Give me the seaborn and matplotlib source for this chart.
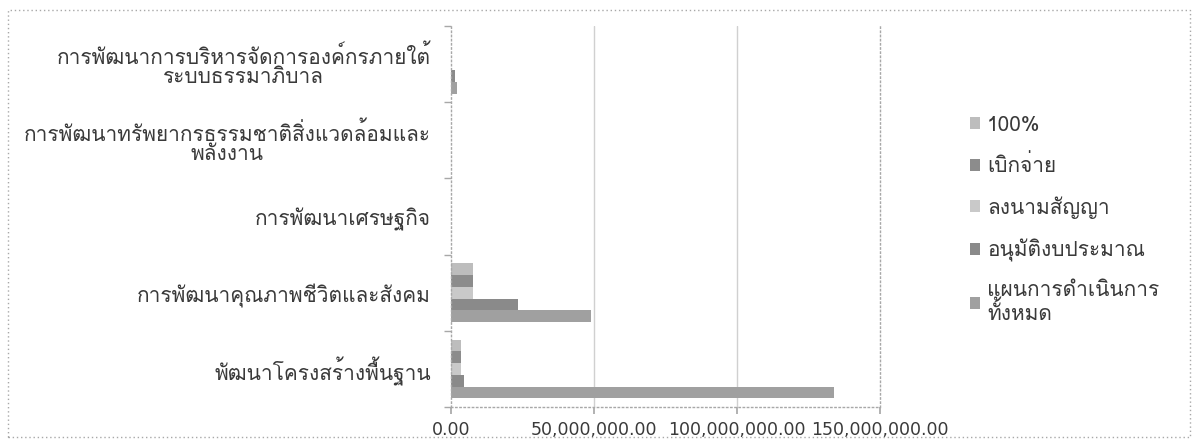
import numpy as np
import pandas as pd
import matplotlib
matplotlib.use("Agg")
import matplotlib.pyplot as plt
from matplotlib import font_manager
from matplotlib.patches import Rectangle
from matplotlib.ticker import FuncFormatter, FixedLocator
import seaborn as sns

# ---------------- data ----------------
categories = [
    "การพัฒนาการบริหารจัดการองค์กรภายใต้\nระบบธรรมาภิบาล",
    "การพัฒนาทรัพยากรธรรมชาติสิ่งแวดล้อมและ\nพลังงาน",
    "การพัฒนาเศรษฐกิจ",
    "การพัฒนาคุณภาพชีวิตและสังคม",
    "พัฒนาโครงสร้างพื้นฐาน",
]
series = ["100%", "เบิกจ่าย", "ลงนามสัญญา", "อนุมัติงบประมาณ", "แผนการดำเนินการ\nทั้งหมด"]
values_100 = [0, 0, 0, 7_600_000, 3_400_000]
values_disbursed = [0, 0, 0, 7_600_000, 3_400_000]
values_contract = [0, 0, 0, 7_600_000, 3_400_000]
values_approved = [1_400_000, 0, 0, 23_300_000, 4_700_000]
values_plan = [2_200_000, 0, 0, 49_000_000, 134_000_000]
x_ticks = [0, 50_000_000, 100_000_000, 150_000_000]

series_values = [values_100, values_disbursed, values_contract, values_approved, values_plan]
colors = ["#bdbdbd", "#8c8c8c", "#c9c9c9", "#8a8a8a", "#a0a0a0"]

rows = []
for s, vals in zip(series, series_values):
    for c, v in zip(categories, vals):
        rows.append({"category": c, "series": s, "value": v})
df = pd.DataFrame(rows)

# ---------------- font with Thai coverage ----------------
def find_thai_font():
    try:
        from fontTools.ttLib import TTFont
    except Exception:
        return None
    found = []
    for f in font_manager.fontManager.ttflist:
        try:
            tt = TTFont(f.fname, fontNumber=0, lazy=True)
            cmap = tt.getBestCmap()
            if cmap and 0x0E01 in cmap and 0x0E1E in cmap:
                found.append(f.name)
        except Exception:
            continue
    if not found:
        return None
    prefs = ["Tahoma", "Loma", "Waree", "Garuda", "Umpush", "Looped", "Sarabun",
             "Sans Thai", "Thai", "Sans"]
    for p in prefs:
        for n in found:
            if p in n and "Mono" not in n:
                return n
    return found[0]

sns.set_theme(style="white")
thai = find_thai_font()
fams = ([thai] if thai else []) + ["DejaVu Sans"]
plt.rcParams["font.family"] = fams

text_color = "#3a3a3a"
label_size = 15
line_col = "#a8a8a8"

fig = plt.figure(figsize=(11.94, 4.42), dpi=100)
ax = fig.add_axes([0.3777, 0.079, 0.3593, 0.862])

sns.barplot(
    data=df, x="value", y="category", hue="series",
    order=categories, hue_order=series, palette=colors,
    orient="h", width=0.77, gap=0, linewidth=0, edgecolor="none",
    ax=ax, legend=True,
)

ax.set_xlim(0, 150_000_000)
ax.set_ylim(4.5, -0.5)
ax.set_xlabel("")
ax.set_ylabel("")
ax.xaxis.set_major_locator(FixedLocator(x_ticks))
ax.xaxis.set_major_formatter(FuncFormatter(lambda v, p: f"{v:,.2f}"))

# grid lines
ax.grid(False)
for xv in x_ticks[1:-1]:
    ax.axvline(xv, color="#d0d0d0", lw=1.0, zorder=0)

ax.spines["top"].set_visible(False)
for side in ["left", "bottom", "right"]:
    ax.spines[side].set_visible(True)
    ax.spines[side].set_color(line_col)
    ax.spines[side].set_linestyle((0, (1, 2)))
    ax.spines[side].set_linewidth(1.0)

ax.tick_params(axis="x", which="major", length=5, color=line_col, direction="out",
               labelsize=12.5, labelcolor=text_color, pad=5, bottom=True)
ax.tick_params(axis="y", which="major", length=0, labelsize=label_size,
               labelcolor=text_color, pad=14.5)
ax.yaxis.set_minor_locator(FixedLocator(np.arange(-0.5, 5.0, 1.0)))
ax.tick_params(axis="y", which="minor", length=5, color=line_col, direction="out", left=True)
for lbl in ax.get_xticklabels():
    lbl.set_fontfamily(["DejaVu Sans"])
for lbl in ax.get_yticklabels():
    lbl.set_multialignment("center")
    lbl.set_linespacing(1.0)

# legend
handles, labels = ax.get_legend_handles_labels()
ax.legend_.remove()
leg = fig.legend(
    handles, labels, loc="upper left", bbox_to_anchor=(0.8054, 0.757),
    frameon=False, fontsize=label_size, handlelength=0.5, handleheight=0.5,
    handletextpad=0.32, labelspacing=0.95, borderaxespad=0,
)
for t in leg.get_texts():
    t.set_color(text_color)
    t.set_linespacing(1.0)

# outer chart border
fig.patches.append(Rectangle((0.0067, 0.011), 0.99, 0.966, transform=fig.transFigure,
                             fill=False, edgecolor=line_col, lw=1.0,
                             linestyle=(0, (1, 2)), zorder=0))

fig.savefig("out.png", dpi=100, facecolor="white")
